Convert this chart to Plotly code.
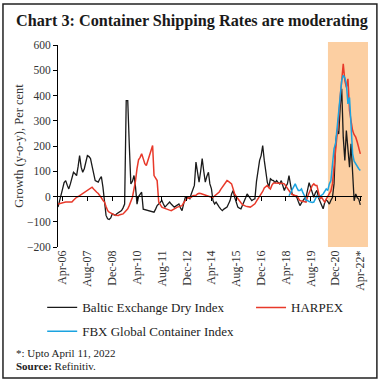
import pandas as pd
import plotly.graph_objects as go

# Monthly observations, Jan-2006 .. Apr-2022 (y-o-y growth, per cent)
baltic = [-42, -20, 0, 30, 55, 63, 45, 30, 50, 80, 96, 90, 83, 120, 162, 116, 96, 110, 140, 162,
          158, 150, 120, 96, 63, 60, 57, 70, 79, 37, -28, -75, -88, -91, -85, -69, -72, -75, -68, -65,
          -62, -56, -45, -30, 380, 380, 200, 50, 60, 83, 40, -30, 0, 10, 17, -50, -52, -54, -56, -58,
          -58, -60, -62, -50, -36, -30, -25, -16, -30, -42, -35, -28, -22, -30, -38, -42, -38, -34, -30, -45,
          -56, -30, -5, -3, -6, -9, 10, 30, 44, 136, 100, 57, 100, 150, 100, 57, 80, 96, 50, 30,
          -16, -30, -22, -35, -42, -50, -56, -50, -45, -42, -30, -16, 10, 24, -3, -25, -42, -46, -49, -35,
          -22, -5, 10, 0, -10, -16, -12, -9, 60, 110, 143, 162, 202, 143, 90, 57, 37, 70, 65, 63,
          55, 63, 55, 50, 63, 40, 24, 40, 50, 83, 40, 10, 5, 0, -3, -20, -36, -25, -16, -8,
          -3, 25, 55, 35, 10, -3, 15, 24, -5, -20, -35, -49, -25, -12, -20, -30, -15, -4, 50, 209,
          261, 248, 350, 427, 235, 143, 261, 182, 116, 209, 75, -17, 10, -5, -10, -33]

harpex = [-30, -28, -26, -24, -22, -22, -22, -22, -20, -22, -15, -8, -3, 0, 4, 8, 10, 15, 20, 24,
          30, 35, 37, 30, 22, 17, 12, 5, -5, -15, -22, -40, -56, -62, -66, -69, -72, -74, -75, -75,
          -72, -70, -69, -62, -55, -49, -35, -15, -3, 30, 60, 110, 145, 155, 169, 150, 130, 123, 145, 162,
          185, 202, 83, 70, 63, -22, -35, -42, -45, -48, -49, -52, -54, -56, -52, -48, -45, -42, -40, -38,
          -36, -25, -15, -9, -6, -4, -3, 3, 3, 5, 10, 13, 12, 10, 5, 3, 2, 0, -2, -3,
          -3, 2, 6, 10, 18, 28, 37, 50, 58, 63, 60, 55, 50, 30, 10, 0, -10, -16, -25, -32,
          -36, -38, -40, -42, -42, -38, -32, -29, -18, -8, -3, 8, 20, 34, 40, 44, 35, 30, 45, 53,
          53, 53, 53, 53, 52, 51, 50, 40, 30, 24, 15, 8, 5, 4, 3, -5, -16, -18, -20, -22,
          -22, 0, 17, 35, 44, 50, 44, 44, 20, -10, -3, -15, -22, -10, 0, 10, 22, 50, 116, 170,
          235, 314, 392, 472, 525, 459, 432, 466, 340, 300, 261, 245, 235, 215, 190, 169]

fbx_start = "2018-06-01"
fbx = [3, 15, 30, 40, 50, 35, 24, 24, 30, 15, 3, -16, -16, -20, -22, -24, -22, -5, 3, -3,
       0, 5, 10, 20, 30, 24, 50, 63, 129, 190, 209, 274, 314, 392, 459, 480, 470, 446, 367, 392,
       261, 169, 140, 129, 116, 110, 103]

months = pd.date_range("2006-01-01", periods=len(baltic), freq="MS")
fbx_months = pd.date_range(fbx_start, periods=len(fbx), freq="MS")

tick_dates = pd.date_range("2006-04-01", periods=13, freq="16MS")
tick_labels = ["Apr-06", "Aug-07", "Dec-08", "Apr-10", "Aug-11", "Dec-12", "Apr-14",
               "Aug-15", "Dec-16", "Apr-18", "Aug-19", "Dec-20", "Apr-22*"]
y_ticks = [600, 500, 400, 300, 200, 100, 0, -100, -200]

SERIF = "Liberation Serif"

fig = go.Figure()
fig.add_trace(go.Scatter(x=months, y=baltic, mode="lines", name="Baltic Exchange Dry Index",
                         legend="legend", legendgroup="a",
                         line=dict(color="#1a1a1a", width=1.3)))
fig.add_trace(go.Scatter(x=months, y=harpex, mode="lines", name="HARPEX",
                         legend="legend2",
                         line=dict(color="#e8392a", width=1.5)))
fig.add_trace(go.Scatter(x=fbx_months, y=fbx, mode="lines", name="FBX Global Container Index",
                         legend="legend", legendgroup="b",
                         line=dict(color="#1ba3e0", width=1.5)))
# invisible trace for the tick-only axis at zero
fig.add_trace(go.Scatter(x=[months[0]], y=[0], xaxis="x2", mode="lines", showlegend=False,
                         hoverinfo="skip", line=dict(color="rgba(0,0,0,0)")))

xr = ["2006-01-01", "2022-05-04"]
legfont = dict(family=SERIF, size=13, color="#222222")

fig.update_layout(
    width=381, height=382,
    margin=dict(l=58, r=19, t=45, b=135, autoexpand=False),
    paper_bgcolor="white", plot_bgcolor="white",
    font=dict(family=SERIF, color="#222222"),
    showlegend=True,
    legend=dict(orientation="v", x=-0.052, xanchor="left", y=-0.225, yanchor="top",
                font=legfont, bgcolor="rgba(0,0,0,0)", tracegroupgap=4, itemwidth=30,
                traceorder="grouped"),
    legend2=dict(orientation="v", x=0.635, xanchor="left", y=-0.225, yanchor="top",
                 font=legfont, bgcolor="rgba(0,0,0,0)", itemwidth=30),
    xaxis=dict(type="date", range=xr, tickmode="array", tickvals=tick_dates, ticktext=tick_labels,
               tickangle=-90, showgrid=False, showline=False, zeroline=False, ticks="",
               automargin=False,
               tickfont=dict(family=SERIF, size=12, color="#333333")),
    xaxis2=dict(type="date", range=xr, overlaying="x", anchor="free", position=0.2525,
                tickmode="array", tickvals=tick_dates, showticklabels=False, ticks="outside",
                ticklen=4, tickcolor="#000000", tickwidth=1, showline=True, linecolor="#000000",
                linewidth=1, showgrid=False, zeroline=False, automargin=False),
    yaxis=dict(range=[-200, 600], tickmode="array", tickvals=y_ticks, showgrid=False,
               zeroline=False, showline=True, linecolor="#000000", linewidth=1,
               ticks="outside", ticklen=4, tickcolor="#000000", automargin=False,
               tickfont=dict(family=SERIF, size=11.5, color="#333333"),
               title=dict(text="Growth (y-o-y), Per cent", standoff=0,
                          font=dict(family=SERIF, size=12.5, color="#333333"))),
    shapes=[
        dict(type="rect", xref="paper", yref="paper", x0=0.888, x1=1.0197, y0=0, y1=1.015,
             fillcolor="#fccfa2", line=dict(width=0), layer="below"),
        dict(type="rect", xref="paper", yref="paper", x0=-0.181, x1=1.049, y0=-0.6485, y1=1.203,
             line=dict(color="#222222", width=1.5), fillcolor="rgba(0,0,0,0)"),
    ],
    annotations=[
        dict(text="<b>Chart 3: Container Shipping Rates are moderating</b>", xref="paper", yref="paper",
             x=-0.1447, y=1.12, xanchor="left", yanchor="middle", showarrow=False,
             font=dict(family=SERIF, size=16.2, color="#1a1a1a")),
        dict(text="*: Upto April 11, 2022", xref="paper", yref="paper",
             x=-0.145, y=-0.5248, xanchor="left", yanchor="middle", showarrow=False,
             font=dict(family=SERIF, size=11, color="#222222")),
        dict(text="<b>Source:</b> Refinitiv.", xref="paper", yref="paper",
             x=-0.145, y=-0.589, xanchor="left", yanchor="middle", showarrow=False,
             font=dict(family=SERIF, size=11, color="#222222")),
    ],
)

fig.write_html("out.html", config={"displayModeBar": False},
               post_script="document.body.style.margin='0';")
